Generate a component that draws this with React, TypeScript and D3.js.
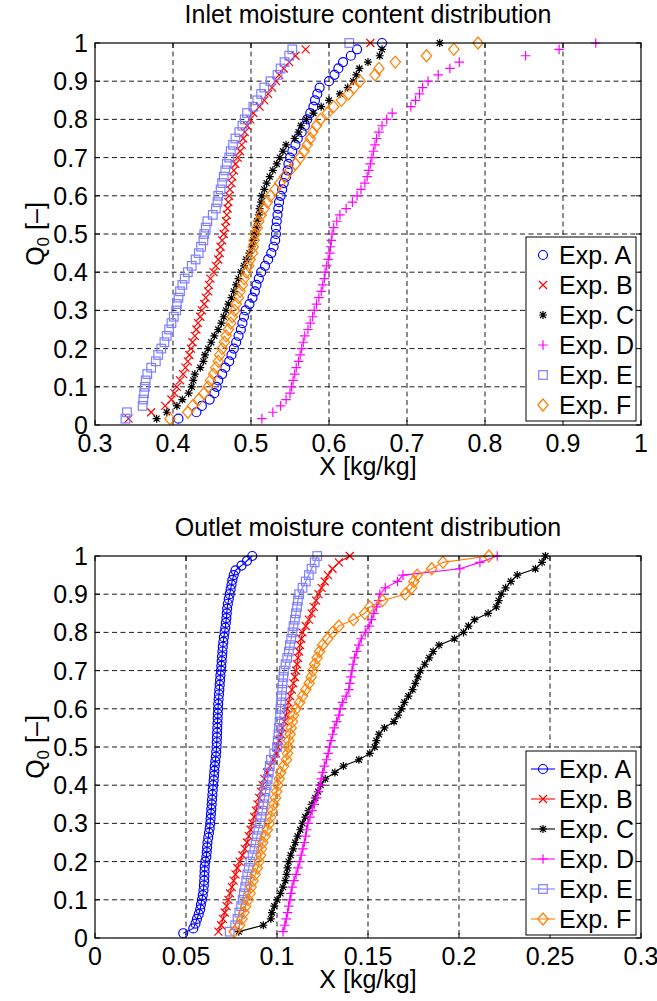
import React from 'react';
import * as d3 from 'd3';

const seriesNames = ['Exp. A', 'Exp. B', 'Exp. C', 'Exp. D', 'Exp. E', 'Exp. F'];
const seriesColors = ['#0000ff', '#ff0000', '#000000', '#ff00ff', '#7f7fff', '#ff7f00'];
const seriesMarkers = ['circle', 'x', 'star', 'plus', 'square', 'diamond'];

// Inlet moisture content X [kg/kg], sorted (empirical distribution Q0 = rank / n)
const inletA = [.407,.430,.437,.447,.453,.456,.458,.463,.467,.472,.475,.478,.481,.484,.487,.489,.491,.493,.498,.502,.505,.507,.510,.513,.518,.522,.526,.529,.531,.532,.532,.533,.534,.535,.536,.538,.540,.542,.545,.547,.548,.550,.553,.557,.560,.565,.569,.572,.576,.580,.582,.585,.588,.600,.607,.612,.618,.628,.636,.668];
const inletB = [.343,.372,.390,.398,.402,.405,.409,.413,.416,.419,.421,.423,.425,.428,.430,.432,.435,.437,.440,.442,.445,.446,.448,.452,.455,.458,.460,.461,.463,.465,.467,.468,.469,.470,.471,.472,.473,.475,.476,.478,.480,.483,.486,.488,.490,.492,.495,.499,.503,.511,.517,.522,.527,.532,.536,.542,.549,.557,.570,.653];
const inletC = [.379,.392,.405,.412,.420,.424,.426,.428,.435,.439,.441,.445,.449,.453,.458,.462,.465,.468,.471,.475,.478,.481,.484,.487,.491,.494,.498,.501,.503,.505,.507,.508,.510,.511,.513,.514,.517,.520,.524,.528,.533,.537,.541,.545,.556,.561,.564,.571,.580,.590,.600,.614,.624,.631,.635,.639,.650,.665,.668,.742];
const inletD = [.514,.528,.538,.545,.550,.552,.554,.556,.558,.561,.563,.565,.567,.569,.573,.576,.579,.581,.584,.587,.590,.592,.594,.595,.597,.599,.601,.602,.603,.604,.606,.610,.614,.622,.630,.636,.641,.646,.649,.651,.653,.655,.657,.659,.661,.664,.668,.674,.681,.705,.711,.716,.720,.727,.740,.755,.767,.852,.895,.942];
const inletE = [.339,.341,.361,.362,.363,.364,.365,.367,.372,.378,.381,.385,.389,.392,.395,.398,.401,.404,.405,.407,.409,.412,.415,.419,.424,.429,.433,.436,.439,.440,.442,.444,.451,.455,.457,.458,.461,.463,.465,.467,.469,.472,.474,.477,.480,.485,.489,.492,.495,.503,.508,.513,.517,.525,.534,.538,.543,.549,.553,.626];
const inletF = [.396,.419,.425,.433,.440,.445,.448,.452,.455,.458,.460,.463,.466,.468,.471,.474,.476,.479,.481,.484,.486,.489,.491,.494,.497,.499,.502,.503,.504,.505,.508,.510,.513,.517,.521,.525,.531,.537,.543,.550,.557,.563,.568,.572,.576,.579,.584,.589,.598,.606,.616,.625,.632,.640,.659,.664,.685,.725,.760,.791];

// Outlet moisture content X [kg/kg]
const outletA = [.0485,.0540,.0552,.0560,.0570,.0578,.0582,.0587,.0592,.0596,.0598,.0600,.0601,.0602,.0603,.0606,.0612,.0614,.0616,.0618,.0622,.0626,.0630,.0633,.0635,.0637,.0639,.0641,.0643,.0645,.0647,.0649,.0652,.0654,.0656,.0658,.0661,.0664,.0666,.0668,.0669,.0670,.0671,.0672,.0673,.0674,.0675,.0676,.0677,.0679,.0681,.0683,.0685,.0687,.0689,.0692,.0694,.0696,.0698,.0700,.0702,.0705,.0708,.0712,.0716,.0719,.0722,.0724,.0726,.0730,.0735,.0740,.0745,.0750,.0755,.0762,.0772,.0805,.0835,.0864];
const outletB = [.0678,.0693,.0703,.0713,.0723,.0733,.0742,.0752,.0762,.0772,.0782,.0795,.0810,.0823,.0835,.0845,.0855,.0865,.0875,.0884,.0893,.0902,.0912,.0921,.0930,.0945,.0962,.0980,.0995,.1005,.1013,.1021,.1030,.1040,.1050,.1057,.1063,.1072,.1082,.1090,.1098,.1105,.1110,.1115,.1121,.1127,.1133,.1140,.1158,.1175,.1190,.1202,.1215,.1228,.1245,.1262,.1280,.1305,.1340,.1400];
const outletC = [.0790,.0925,.0966,.0972,.0985,.1001,.1019,.1033,.1046,.1053,.1058,.1064,.1075,.1089,.1100,.1113,.1128,.1140,.1156,.1173,.1191,.1210,.1226,.1240,.1265,.1318,.1365,.1450,.1510,.1537,.1546,.1560,.1590,.1643,.1665,.1683,.1700,.1722,.1745,.1760,.1774,.1788,.1812,.1836,.1858,.1890,.1975,.2025,.2052,.2085,.2160,.2205,.2218,.2232,.2256,.2285,.2320,.2420,.2456,.2475];
const outletD = [.1033,.1043,.1051,.1058,.1064,.1071,.1077,.1083,.1093,.1105,.1115,.1125,.1133,.1142,.1150,.1157,.1163,.1170,.1181,.1193,.1205,.1218,.1228,.1236,.1243,.1251,.1260,.1272,.1281,.1289,.1297,.1306,.1315,.1328,.1341,.1347,.1360,.1380,.1395,.1400,.1406,.1412,.1418,.1426,.1438,.1450,.1463,.1485,.1506,.1519,.1532,.1547,.1559,.1565,.1595,.1662,.1692,.2005,.2115,.2210];
const outletE = [.0740,.0770,.0783,.0793,.0803,.0811,.0818,.0825,.0831,.0837,.0845,.0854,.0866,.0876,.0883,.0890,.0898,.0907,.0913,.0919,.0925,.0931,.0937,.0943,.0949,.0955,.0960,.0967,.0985,.1000,.1004,.1008,.1011,.1014,.1017,.1019,.1022,.1025,.1028,.1031,.1035,.1038,.1047,.1056,.1065,.1071,.1078,.1085,.1091,.1098,.1104,.1110,.1115,.1122,.1140,.1158,.1175,.1190,.1207,.1221];
const outletF = [.0765,.0795,.0808,.0818,.0828,.0842,.0852,.0858,.0868,.0880,.0892,.0902,.0910,.0915,.0922,.0935,.0947,.0958,.0965,.0973,.0982,.0992,.0998,.1005,.1012,.1020,.1036,.1052,.1058,.1062,.1065,.1072,.1078,.1085,.1091,.1105,.1124,.1140,.1158,.1176,.1188,.1197,.1207,.1220,.1234,.1250,.1278,.1305,.1340,.1420,.1482,.1510,.1580,.1705,.1740,.1752,.1770,.1850,.1912,.2164];

const yTicks = [0, 0.1, 0.2, 0.3, 0.4, 0.5, 0.6, 0.7, 0.8, 0.9, 1];
const inletXTicks = [0.3, 0.4, 0.5, 0.6, 0.7, 0.8, 0.9, 1];
const outletXTicks = [0, 0.05, 0.1, 0.15, 0.2, 0.25, 0.3];

const FONT = '"Liberation Sans", Arial, Helvetica, sans-serif';
const FS = 25;

function Marker({ type, x, y, color }: { type: string; x: number; y: number; color: string }) {
  const sw = 1.2;
  const common = { stroke: color, strokeWidth: sw, fill: 'none' };
  switch (type) {
    case 'circle':
      return <circle cx={x} cy={y} r={4.5} {...common} />;
    case 'x': {
      const s = 4;
      return <path d={`M${x - s},${y - s}L${x + s},${y + s}M${x - s},${y + s}L${x + s},${y - s}`} {...common} />;
    }
    case 'plus': {
      const s = 4.8;
      return <path d={`M${x - s},${y}L${x + s},${y}M${x},${y - s}L${x},${y + s}`} {...common} />;
    }
    case 'star': {
      const s = 4;
      const t = 3;
      return (
        <path
          d={`M${x - s},${y}L${x + s},${y}M${x},${y - s}L${x},${y + s}M${x - t},${y - t}L${x + t},${y + t}M${x - t},${y + t}L${x + t},${y - t}`}
          {...common}
        />
      );
    }
    case 'square': {
      const s = 4.3;
      return <rect x={x - s} y={y - s} width={2 * s} height={2 * s} {...common} />;
    }
    case 'diamond': {
      const w = 5.2;
      const h = 6;
      return <path d={`M${x},${y - h}L${x + w},${y}L${x},${y + h}L${x - w},${y}Z`} {...common} />;
    }
  }
  return null;
}

type ChartProps = {
  top: number;
  bottom: number;
  title: string;
  xDomain: [number, number];
  xTicks: number[];
  data: number[][];
  withLines: boolean;
  legendTop: number;
};

const LEFT = 95;
const RIGHT = 641;

function fmt(v: number) {
  return String(Math.round(v * 1000) / 1000);
}

function Chart({ top, bottom, title, xDomain, xTicks, data, withLines, legendTop }: ChartProps) {
  const x = d3.scaleLinear().domain(xDomain).range([LEFT, RIGHT]);
  const y = d3.scaleLinear().domain([0, 1]).range([bottom, top]);
  const line = d3.line<[number, number]>().x((d) => x(d[0])).y((d) => y(d[1]));
  const cy = (top + bottom) / 2;
  const tickLen = 5;

  return (
    <g>
      <text x={(LEFT + RIGHT) / 2} y={top - 20} textAnchor="middle" fontFamily={FONT} fontSize={FS}>
        {title}
      </text>
      {/* grid */}
      {xTicks.slice(1, -1).map((t) => (
        <line key={'gx' + t} x1={x(t)} x2={x(t)} y1={top} y2={bottom} stroke="#000" strokeWidth={0.9} strokeDasharray="5,3.5" />
      ))}
      {yTicks.slice(1, -1).map((t) => (
        <line key={'gy' + t} x1={LEFT} x2={RIGHT} y1={y(t)} y2={y(t)} stroke="#000" strokeWidth={0.9} strokeDasharray="5,3.5" />
      ))}
      {/* ticks inside */}
      {xTicks.map((t) => (
        <g key={'tx' + t}>
          <line x1={x(t)} x2={x(t)} y1={bottom} y2={bottom - tickLen} stroke="#000" />
          <line x1={x(t)} x2={x(t)} y1={top} y2={top + tickLen} stroke="#000" />
          <text x={x(t)} y={bottom + 27} textAnchor="middle" fontFamily={FONT} fontSize={FS}>
            {fmt(t)}
          </text>
        </g>
      ))}
      {yTicks.map((t) => (
        <g key={'ty' + t}>
          <line x1={LEFT} x2={LEFT + tickLen} y1={y(t)} y2={y(t)} stroke="#000" />
          <line x1={RIGHT} x2={RIGHT - tickLen} y1={y(t)} y2={y(t)} stroke="#000" />
          <text x={LEFT - 7} y={y(t) + 9} textAnchor="end" fontFamily={FONT} fontSize={FS}>
            {fmt(t)}
          </text>
        </g>
      ))}
      {/* axis labels */}
      <text x={(LEFT + RIGHT) / 2} y={bottom + 50} textAnchor="middle" fontFamily={FONT} fontSize={FS}>
        X [kg/kg]
      </text>
      <text transform={`translate(44,${cy}) rotate(-90)`} textAnchor="middle" fontFamily={FONT} fontSize={FS}>
        Q<tspan fontSize={17} dy={5}>0</tspan>
        <tspan dy={-5}> [–]</tspan>
      </text>
      {/* series */}
      {data.map((vals, si) => {
        const pts: [number, number][] = vals.map((v, i) => [v, (i + 1) / vals.length]);
        return (
          <g key={'s' + si}>
            {withLines && <path d={line(pts) || ''} fill="none" stroke={seriesColors[si]} strokeWidth={1.1} />}
            {pts.map((p, i) => (
              <Marker key={i} type={seriesMarkers[si]} x={x(p[0])} y={y(p[1])} color={seriesColors[si]} />
            ))}
          </g>
        );
      })}
      {/* frame */}
      <rect x={LEFT} y={top} width={RIGHT - LEFT} height={bottom - top} fill="none" stroke="#000" strokeWidth={1.2} />
      {/* legend */}
      <g>
        <rect x={526} y={legendTop} width={110} height={184} fill="#fff" stroke="#000" strokeWidth={1} />
        {seriesNames.map((n, i) => {
          const ly = legendTop + 18 + i * 30;
          return (
            <g key={'l' + i}>
              {withLines && <line x1={531} x2={555} y1={ly} y2={ly} stroke={seriesColors[i]} strokeWidth={1.1} />}
              <Marker type={seriesMarkers[i]} x={543} y={ly} color={seriesColors[i]} />
              <text x={559} y={ly + 9} fontFamily={FONT} fontSize={FS}>
                {n}
              </text>
            </g>
          );
        })}
      </g>
    </g>
  );
}

export default function App() {
  return (
    <svg width={657} height={1001} style={{ position: 'absolute', left: 0, top: 0, background: '#fff' }}>
      <rect x={0} y={0} width={657} height={1001} fill="#fff" />
      <Chart
        top={43}
        bottom={425}
        title="Inlet moisture content distribution"
        xDomain={[0.3, 1]}
        xTicks={inletXTicks}
        data={[inletA, inletB, inletC, inletD, inletE, inletF]}
        withLines={false}
        legendTop={237}
      />
      <Chart
        top={556}
        bottom={938}
        title="Outlet moisture content distribution"
        xDomain={[0, 0.3]}
        xTicks={outletXTicks}
        data={[outletA, outletB, outletC, outletD, outletE, outletF]}
        withLines={true}
        legendTop={751}
      />
    </svg>
  );
}
